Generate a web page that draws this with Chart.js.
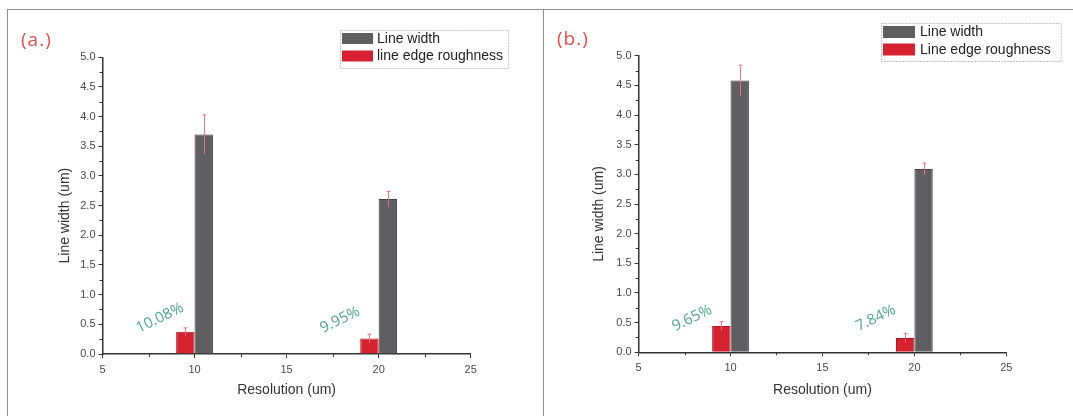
<!DOCTYPE html>
<html>
<head>
<meta charset="utf-8">
<script src="https://cdn.jsdelivr.net/npm/chart.js@4.4.1/dist/chart.umd.min.js"></script>
<style>
  html, body { margin: 0; padding: 0; background: #fff; }
  body { width: 1073px; height: 416px; position: relative; overflow: hidden; }
  canvas { position: absolute; top: 0; }
  #chartA { left: 0; }
  #chartB { left: 544px; }
  .rule { position: absolute; background: #8f8f8f; }
  .tag { position: absolute; font-family: "Open Sans", sans-serif; font-size: 19px; letter-spacing: 1px;
         color: #df4f4a; line-height: 1; }
</style>
</head>
<body>
<canvas id="chartA" width="543" height="416"></canvas>
<canvas id="chartB" width="529" height="416"></canvas>
<div class="rule" style="left:8px;top:9px;width:1065px;height:1px"></div>
<div class="rule" style="left:7px;top:9px;width:1px;height:407px"></div>
<div class="rule" style="left:543px;top:9px;width:1px;height:407px"></div>
<div class="tag" style="left:21px;top:30px">(a.)</div>
<div class="tag" style="left:557px;top:29px">(b.)</div>
<script>
// Resolution of the printed lines (um)
const resolution = [10, 20];

// Panel (a)
const lineWidthA = [3.70, 2.61];
const lineWidthErrA = [0.33, 0.13];
const lerA = [0.373, 0.26];
const lerErrA = [0.067, 0.075];
const ratioLabelsA = ['10.08%', '9.95%'];

// Panel (b)
const lineWidthB = [4.58, 3.09];
const lineWidthErrB = [0.26, 0.10];
const lerB = [0.442, 0.242];
const lerErrB = [0.074, 0.078];
const ratioLabelsB = ['9.65%', '7.84%'];

// Axis ticks
const xTicks = [5, 10, 15, 20, 25];
const yTicks = [0, 0.5, 1, 1.5, 2, 2.5, 3, 3.5, 4, 4.5, 5];

const SANS = '"Liberation Sans", Arial, sans-serif';
const GREY = '#5f5f62';
const GREY_EDGE = '#434346';
const RED = '#d6212f';
const RED_EDGE = '#b3161f';
const AXIS = '#333';
const ERR = 'rgba(232, 110, 128, 0.95)';
const RATIO = '#4fa68b';

// Error bars, minor ticks, rotated ratio labels, the y title and the boxed legend
const decorPlugin = {
  id: 'decor',
  afterDatasetsDraw(chart) {
    const ctx = chart.ctx;
    const ys = chart.scales.y;
    ctx.save();
    ctx.strokeStyle = ERR;
    ctx.lineWidth = 1;
    chart.data.datasets.forEach((ds, i) => {
      const meta = chart.getDatasetMeta(i);
      meta.data.forEach((el, j) => {
        const v = ds.data[j].y, e = ds.errors[j];
        const x = Math.round(el.x) + 0.5;
        const y1 = ys.getPixelForValue(v + e), y2 = ys.getPixelForValue(v - e);
        ctx.beginPath();
        ctx.moveTo(x, y1); ctx.lineTo(x, y2);
        ctx.moveTo(x - 2, y1); ctx.lineTo(x + 2, y1);
        ctx.stroke();
      });
    });
    ctx.restore();
  },
  afterDraw(chart, args, opts) {
    const ctx = chart.ctx;
    const xs = chart.scales.x, ys = chart.scales.y;
    const area = chart.chartArea;
    ctx.save();

    // minor ticks halfway between the labelled ones
    ctx.strokeStyle = AXIS;
    ctx.lineWidth = 1;
    ctx.beginPath();
    for (let k = 0; k < yTicks.length - 1; k++) {
      const y = Math.round(ys.getPixelForValue((yTicks[k] + yTicks[k + 1]) / 2)) + 0.5;
      ctx.moveTo(area.left - 3, y); ctx.lineTo(area.left, y);
    }
    for (let k = 0; k < xTicks.length - 1; k++) {
      const x = Math.round(xs.getPixelForValue((xTicks[k] + xTicks[k + 1]) / 2)) + 0.5;
      ctx.moveTo(x, area.bottom); ctx.lineTo(x, area.bottom + 3);
    }
    ctx.stroke();

    // roughness / width ratio written beside each red bar
    const redMeta = chart.getDatasetMeta(0);
    ctx.fillStyle = RATIO;
    ctx.font = '15px "Open Sans", sans-serif';
    ctx.textAlign = 'left';
    ctx.textBaseline = 'middle';
    redMeta.data.forEach((el, j) => {
      const left = el.x - el.width / 2;
      ctx.save();
      ctx.translate(left - 39, ys.getPixelForValue(opts.ratioLevel));
      ctx.rotate(-26 * Math.PI / 180);
      ctx.fillText(opts.ratios[j], 0, 0);
      ctx.restore();
    });

    // y axis title
    ctx.save();
    ctx.fillStyle = '#333';
    ctx.font = '14px ' + SANS;
    ctx.textAlign = 'center';
    ctx.textBaseline = 'middle';
    ctx.translate(opts.yTitleX, (area.top + area.bottom) / 2 + 10);
    ctx.rotate(-Math.PI / 2);
    ctx.fillText('Line width (um)', 0, 0);
    ctx.restore();

    // legend box, top right of the plot
    const lg = opts.legend;
    const order = [1, 0];
    ctx.font = '14px ' + SANS;
    let textW = 0;
    order.forEach(i => { textW = Math.max(textW, ctx.measureText(chart.data.datasets[i].label).width); });
    const boxW = lg.swatchGap + lg.swatchW + lg.textGap + textW + lg.padRight;
    const boxH = lg.rowH * 2 + 3;
    ctx.fillStyle = '#fff';
    ctx.fillRect(lg.x, lg.y, boxW, boxH);
    ctx.strokeStyle = '#c4c4c4';
    ctx.setLineDash([2, 1]);
    ctx.strokeRect(lg.x + 0.5, lg.y + 0.5, boxW, boxH);
    ctx.setLineDash([]);
    ctx.textAlign = 'left';
    ctx.textBaseline = 'middle';
    order.forEach((i, r) => {
      const ds = chart.data.datasets[i];
      const top = lg.y + 3 + r * lg.rowH;
      ctx.fillStyle = ds.backgroundColor;
      ctx.fillRect(lg.x + lg.swatchGap, top, lg.swatchW, lg.swatchH);
      ctx.fillStyle = '#222';
      ctx.fillText(ds.label, lg.x + lg.swatchGap + lg.swatchW + lg.textGap, top + lg.swatchH / 2 + 0.5);
    });
    ctx.restore();
  }
};

function makePanel(id, p) {
  const datasets = [
    { label: p.lerLabel, data: resolution.map((x, i) => ({ x, y: p.ler[i] })), errors: p.lerErr,
      backgroundColor: RED, borderColor: RED_EDGE, borderWidth: 1 },
    { label: 'Line width', data: resolution.map((x, i) => ({ x, y: p.lw[i] })), errors: p.lwErr,
      backgroundColor: GREY, borderColor: GREY_EDGE, borderWidth: 1 }
  ];
  return new Chart(document.getElementById(id), {
    type: 'bar',
    data: { datasets },
    options: {
      responsive: false,
      animation: false,
      devicePixelRatio: 1,
      categoryPercentage: 0.4,
      barPercentage: 1,
      layout: { padding: { left: 0, top: p.top, right: p.right, bottom: 0 } },
      plugins: {
        legend: { display: false },
        tooltip: { enabled: false },
        decor: { ratios: p.ratios, ratioLevel: 0.42, yTitleX: p.yTitleX, legend: p.legend }
      },
      scales: {
        x: {
          type: 'linear', min: 5, max: 25, offset: false,
          afterBuildTicks: s => { s.ticks = xTicks.map(v => ({ value: v })); },
          afterFit: s => { s.height = p.xAxisH; },
          grid: { display: true, offset: false, drawOnChartArea: false, drawTicks: true, tickLength: 4, color: AXIS, lineWidth: 1 },
          border: { display: true, color: AXIS, width: 1.5 },
          ticks: { font: { family: SANS, size: 11 }, color: '#4a4a4a', padding: 5, maxRotation: 0,
                   callback: v => String(v) },
          title: { display: true, text: 'Resolution (um)', color: '#333',
                   font: { family: SANS, size: 14 }, padding: { top: 0, bottom: 17.6 } }
        },
        y: {
          type: 'linear', min: 0, max: 5,
          afterBuildTicks: s => { s.ticks = yTicks.map(v => ({ value: v })); },
          afterFit: s => { s.width = p.yAxisW; },
          grid: { display: true, drawOnChartArea: false, drawTicks: true, tickLength: 4, color: AXIS, lineWidth: 1 },
          border: { display: true, color: AXIS, width: 1.5 },
          ticks: { font: { family: SANS, size: 11 }, color: '#4a4a4a', padding: 3,
                   callback: v => Number(v).toFixed(1) }
        }
      }
    },
    plugins: [decorPlugin]
  });
}

makePanel('chartA', {
  lw: lineWidthA, lwErr: lineWidthErrA, ler: lerA, lerErr: lerErrA, ratios: ratioLabelsA,
  lerLabel: 'line edge roughness',
  top: 57.3, right: 72.3, yAxisW: 102.5, xAxisH: 62, yTitleX: 65.4,
  legend: { x: 340, y: 30, swatchGap: 2, swatchW: 31, swatchH: 11, textGap: 4, rowH: 17.5, padRight: 5 }
});

makePanel('chartB', {
  lw: lineWidthB, lwErr: lineWidthErrB, ler: lerB, lerErr: lerErrB, ratios: ratioLabelsB,
  lerLabel: 'Line edge roughness',
  top: 55.7, right: 66.7, yAxisW: 94.6, xAxisH: 63.7, yTitleX: 55.5,
  legend: { x: 337, y: 23, swatchGap: 2, swatchW: 32, swatchH: 12, textGap: 5, rowH: 17.5, padRight: 10 }
});
</script>
</body>
</html>
